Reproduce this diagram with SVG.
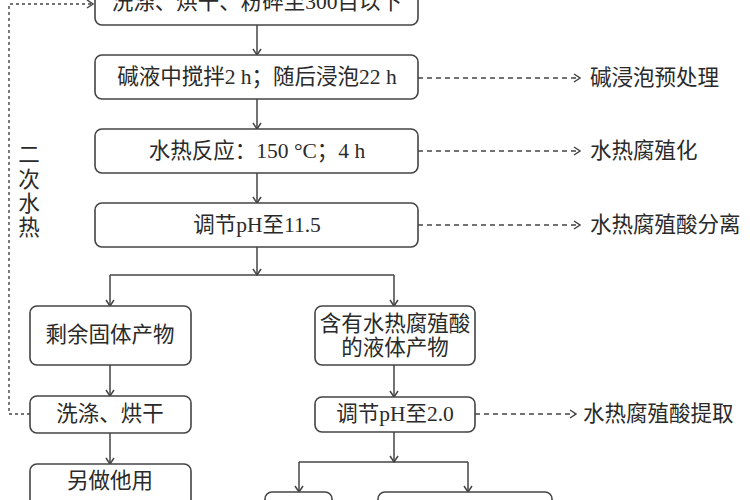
<svg xmlns="http://www.w3.org/2000/svg" width="750" height="500" viewBox="0 0 750 500">
<defs>
<style>
.box{fill:#fff;stroke:#444;stroke-width:1.6}
.t{font-family:"Liberation Serif","Noto Sans CJK SC",serif;font-size:21.5px;fill:#2a2a2a;text-anchor:middle;dominant-baseline:central}
.lbl{font-family:"Liberation Serif","Noto Sans CJK SC",serif;font-size:21.5px;fill:#2a2a2a;dominant-baseline:central}
.ln{fill:none;stroke:#444;stroke-width:1.5}
.dash{fill:none;stroke:#444;stroke-width:1.4;stroke-dasharray:5,4}
.dot{fill:none;stroke:#444;stroke-width:1.4;stroke-dasharray:3,3}
</style>
<marker id="arr" markerWidth="10" markerHeight="10" refX="9" refY="5" orient="auto" markerUnits="userSpaceOnUse">
<path d="M3,1 L9,5 L3,9" fill="none" stroke="#444" stroke-width="1.5"/>
</marker>
</defs>
<rect width="750" height="500" fill="#fff"/>
<g id="connectors">
<line class="ln" x1="257" y1="25" x2="257" y2="55" marker-end="url(#arr)"/>
<line class="ln" x1="257" y1="99" x2="257" y2="129" marker-end="url(#arr)"/>
<line class="ln" x1="257" y1="173" x2="257" y2="203" marker-end="url(#arr)"/>
<line class="ln" x1="257" y1="247" x2="257" y2="275" marker-end="url(#arr)"/>
<line class="ln" x1="110" y1="275" x2="394" y2="275"/>
<line class="ln" x1="110" y1="275" x2="110" y2="306" marker-end="url(#arr)"/>
<line class="ln" x1="394" y1="275" x2="394" y2="306" marker-end="url(#arr)"/>
<line class="ln" x1="110" y1="365" x2="110" y2="396" marker-end="url(#arr)"/>
<line class="ln" x1="110" y1="433" x2="110" y2="464" marker-end="url(#arr)"/>
<line class="ln" x1="394" y1="365" x2="394" y2="397" marker-end="url(#arr)"/>
<line class="ln" x1="394" y1="432" x2="394" y2="462" marker-end="url(#arr)"/>
<line class="ln" x1="299" y1="462" x2="468" y2="462"/>
<line class="ln" x1="299" y1="462" x2="299" y2="492" marker-end="url(#arr)"/>
<line class="ln" x1="468" y1="462" x2="468" y2="492" marker-end="url(#arr)"/>
<line class="dash" x1="418" y1="78" x2="580" y2="78" marker-end="url(#arr)"/>
<line class="dash" x1="418" y1="151" x2="580" y2="151" marker-end="url(#arr)"/>
<line class="dash" x1="418" y1="225" x2="580" y2="225" marker-end="url(#arr)"/>
<line class="dash" x1="475" y1="414" x2="576" y2="414" marker-end="url(#arr)"/>
<path class="dot" d="M30,414 H9 V4 H93" marker-end="url(#arr)"/>
</g>
<g id="n1"><rect class="box" x="95" y="-20" width="323" height="45" rx="7"/><text class="t" x="257" y="2">洗涤、烘干、粉碎至300目以下</text></g>
<g id="n2"><rect class="box" x="95" y="55" width="323" height="44" rx="7"/><text class="t" x="257" y="77">碱液中搅拌2 h；随后浸泡22 h</text></g>
<g id="n3"><rect class="box" x="95" y="129" width="323" height="44" rx="7"/><text class="t" x="257" y="151">水热反应：150 °C；4 h</text></g>
<g id="n4"><rect class="box" x="95" y="203" width="323" height="44" rx="7"/><text class="t" x="257" y="225">调节pH至11.5</text></g>
<g id="n5"><rect class="box" x="30" y="306" width="161" height="59" rx="7"/><text class="t" x="110" y="335">剩余固体产物</text></g>
<g id="n6"><rect class="box" x="30" y="396" width="161" height="37" rx="7"/><text class="t" x="110" y="414">洗涤、烘干</text></g>
<g id="n7"><rect class="box" x="30" y="464" width="161" height="50" rx="7"/><text class="t" x="110" y="481">另做他用</text></g>
<g id="n8"><rect class="box" x="315" y="306" width="160" height="59" rx="7"/><text class="t" x="395" y="324">含有水热腐殖酸</text><text class="t" x="395" y="348">的液体产物</text></g>
<g id="n9"><rect class="box" x="315" y="397" width="160" height="35" rx="7"/><text class="t" x="395" y="414">调节pH至2.0</text></g>
<g id="n10"><rect class="box" x="265" y="492" width="67" height="30" rx="7"/></g>
<g id="n11"><rect class="box" x="378" y="492" width="174" height="30" rx="7"/></g>
<g id="labels">
<text class="lbl" x="590" y="78">碱浸泡预处理</text>
<text class="lbl" x="590" y="151">水热腐殖化</text>
<text class="lbl" x="590" y="225">水热腐殖酸分离</text>
<text class="lbl" x="583" y="414">水热腐殖酸提取</text>
<text class="t" x="29" y="155">二</text>
<text class="t" x="29" y="180">次</text>
<text class="t" x="29" y="204">水</text>
<text class="t" x="29" y="228">热</text>
</g>
</svg>
